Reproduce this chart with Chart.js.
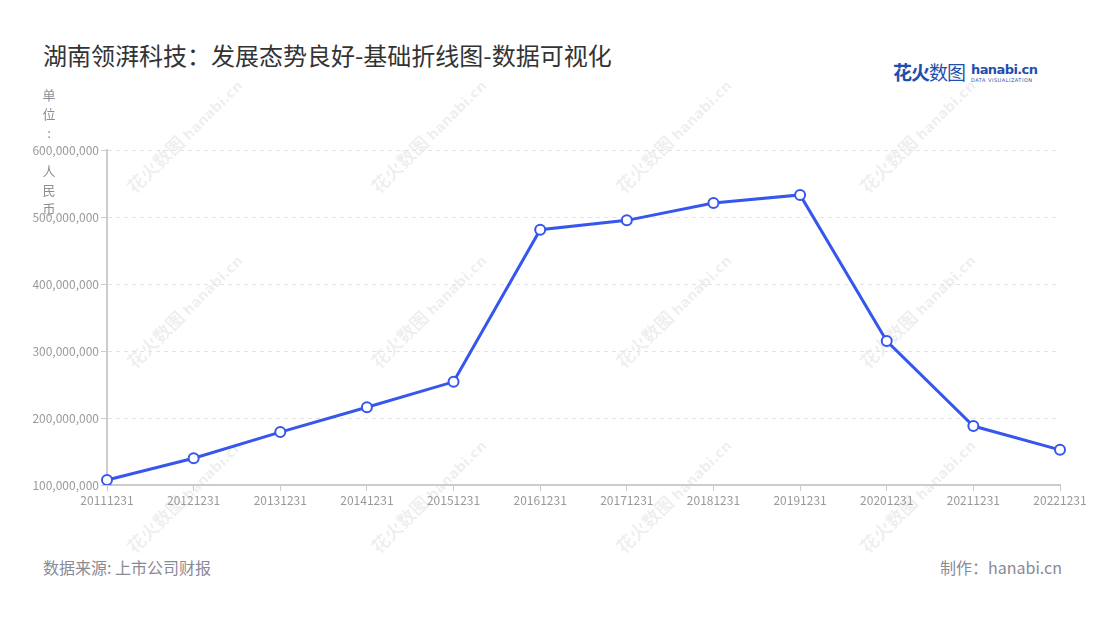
<!DOCTYPE html>
<html>
<head>
<meta charset="utf-8">
<script src="https://cdn.jsdelivr.net/npm/chart.js@4/dist/chart.umd.min.js"></script>
<style>
  html, body { margin: 0; padding: 0; background: #fff; }
  body { width: 1100px; height: 620px; position: relative; overflow: hidden; font-family: "Noto Sans CJK SC", "Noto Sans", sans-serif; }
  .title { position: absolute; left: 43px; top: 37px; font-size: 24px; color: #333; font-weight: 400; }
  .unit { position: absolute; left: 40px; top: 85px; width: 18px; text-align: center; font-size: 13px; line-height: 19px; color: #8c8c99; z-index: 3; }
  .source { position: absolute; left: 43px; top: 555px; font-size: 16px; color: #8a8a95; }
  .maker { position: absolute; right: 38px; top: 555px; font-size: 16px; color: #8a8a95; }
  .logo { position: absolute; left: 893px; top: 58px; white-space: nowrap; }
  .logo .cn { font-size: 19px; font-weight: 700; color: #1f4fae; letter-spacing: -1px; vertical-align: top; }
  .logo .cn em { font-style: normal; font-weight: 400; }
  .logo .en { display: inline-block; vertical-align: top; margin-left: 6px; line-height: 1; }
  .logo .en b { display: block; font-family: "DejaVu Sans", sans-serif; font-size: 13px; letter-spacing: -0.6px; color: #1f4fae; margin-top: 5px; }
  .logo .en i { display: block; font-style: normal; font-family: "DejaVu Sans", sans-serif; font-size: 5px; letter-spacing: 0.5px; color: #1f4fae; margin-top: 2px; }
  .wm { position: absolute; transform: rotate(-45deg); transform-origin: center; white-space: nowrap; color: rgba(0,0,0,0.08); font-weight: 700; font-size: 18px; z-index: 0; }
  .wm span { font-family: "DejaVu Sans", sans-serif; font-size: 14px; margin-left: 4px; }
  #wrap { position: absolute; left: 0; top: 0; width: 1100px; height: 620px; z-index: 1; }
</style>
</head>
<body>
<div class="title">湖南领湃科技：发展态势良好-基础折线图-数据可视化</div>
<div class="logo"><span class="cn">花火<em>数图</em></span><span class="en"><b>hanabi.cn</b><i>DATA VISUALIZATION</i></span></div>
<div class="unit">单<br>位<br>:<br>&nbsp;<br>人<br>民<br>币</div>
<div id="marks"></div>
<div id="wrap"><canvas id="myChart" width="1100" height="620"></canvas></div>
<div class="source">数据来源: 上市公司财报</div>
<div class="maker">制作：hanabi.cn</div>
<script>
var categories = ["20111231", "20121231", "20131231", "20141231", "20151231", "20161231",
                  "20171231", "20181231", "20191231", "20201231", "20211231", "20221231"];
var revenue = [107500000, 140000000, 179000000, 216000000, 254000000, 481000000,
               495000000, 521000000, 533000000, 315000000, 188000000, 152500000];
var yTicks = [100000000, 200000000, 300000000, 400000000, 500000000, 600000000];

// faint watermarks behind the chart
var wmCols = [183, 427, 672, 916];
var wmRows = [135, 310, 495];
var marks = document.getElementById("marks");
wmRows.forEach(function(cy) {
    wmCols.forEach(function(cx) {
        var d = document.createElement("div");
        d.className = "wm";
        d.innerHTML = "花火数图<span>hanabi.cn</span>";
        marks.appendChild(d);
        d.style.left = (cx - d.offsetWidth / 2) + "px";
        d.style.top = (cy - d.offsetHeight / 2) + "px";
    });
});

var ctx = document.getElementById("myChart").getContext("2d");
var myChart = new Chart(ctx, {
    type: "line",
    data: {
        labels: categories,
        datasets: [{
            label: "营业收入",
            data: revenue,
            borderColor: "#3656ec",
            borderWidth: 3,
            pointRadius: 5,
            pointHoverRadius: 5,
            pointBackgroundColor: "#fff",
            pointBorderColor: "#3656ec",
            pointBorderWidth: 2,
            tension: 0,
            fill: false
        }]
    },
    options: {
        responsive: false,
        animation: false,
        layout: { padding: { left: 0, right: 40, top: 150, bottom: 105 } },
        plugins: { legend: { display: false }, tooltip: { enabled: false } },
        scales: {
            x: {
                offset: false,
                afterFit: function(s) { s.height = 30; },
                grid: { display: true, drawOnChartArea: false, drawTicks: true, tickLength: 6, color: "#ccc" },
                border: { color: "#ccc", width: 2 },
                ticks: { color: "#999", font: { family: "Noto Sans CJK SC", size: 12 }, maxRotation: 0, autoSkip: false, padding: 2 }
            },
            y: {
                min: 100000000,
                max: 600000000,
                afterFit: function(s) { s.width = 107; },
                afterBuildTicks: function(s) { s.ticks = yTicks.map(function(v) { return { value: v }; }); },
                grid: { color: "#e3e3e3", tickLength: 6, tickColor: "#ccc" },
                border: { color: "#ccc", width: 2, dash: [4, 4] },
                ticks: {
                    color: "#999",
                    font: { family: "Noto Sans CJK SC", size: 12 },
                    padding: 2,
                    callback: function(v) { return Number(v).toLocaleString("en-US"); }
                }
            }
        }
    }
});
</script>
</body>
</html>
